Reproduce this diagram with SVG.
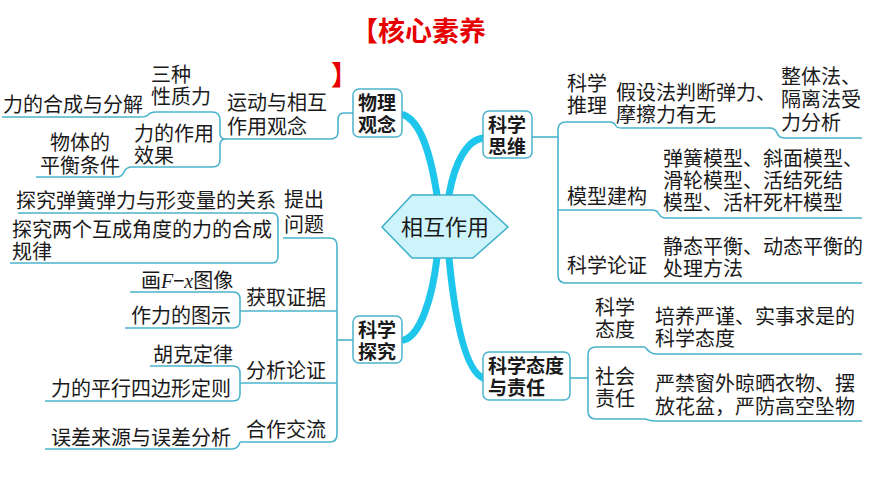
<svg xmlns="http://www.w3.org/2000/svg" width="870" height="489" viewBox="0 0 870 489">
<style>
text{font-family:"Noto Sans CJK SC","Noto Sans",sans-serif;fill:#1a1a1a;font-size:20px}
.n{font-weight:bold;font-size:19px}
.box{fill:#fff;stroke:#4bb4cc;stroke-width:1.5}
.l{fill:none;stroke:#4bb4cc;stroke-width:1.6}
.t{fill:none;stroke:#1ec6ec;stroke-width:7;stroke-linecap:round}
</style>
<rect width="870" height="489" fill="#fff"/>
<text x="351" y="41" style="fill:#e60000;font-size:27px;font-weight:bold">【核心素养</text>
<text x="331" y="85" style="fill:#e60000;font-size:27px;font-weight:bold">】</text>
<g id="connectors">
<path class="t" d="M437,195 C430,150 420,122 404,115"/>
<path class="t" d="M449,195 C455,160 468,140 483,138"/>
<path class="t" d="M437,258 C432,300 420,335 404,340"/>
<path class="t" d="M449,258 C455,320 465,370 483,378"/>
<path class="l" d="M353,113 H344 Q338,113 338,120 V132 Q338,139 330,139 H225"/>
<path class="l" d="M225,139 Q220,139 220,133 V120 Q220,112 212,112 H156 Q150,112 148,115 Q146,117 140,117 H2"/>
<path class="l" d="M225,139 Q220,139 220,146 V160 Q220,167 212,167 H132 Q126,167 124,172 Q122,177 116,177 H36"/>
<path class="l" d="M353,340 H337"/>
<path class="l" d="M283,238 H330 Q337,238 337,246 V434 Q337,442 330,442 H240"/>
<path class="l" d="M18,213 H272 Q278,213 278,220 V256 Q278,263 272,263 H10"/>
<path class="l" d="M240,311 H337"/>
<path class="l" d="M130,292 H233 Q240,292 240,299 V321 Q240,328 233,328 H125"/>
<path class="l" d="M240,383 H337"/>
<path class="l" d="M150,366 H233 Q240,366 240,373 V394 Q240,401 233,401 H45"/>
<path class="l" d="M240,442 Q238,449 232,449 H45"/>
<path class="l" d="M532,137 H558"/>
<path class="l" d="M610,122 H566 Q558,122 558,130 V275 Q558,283 566,283 H862"/>
<path class="l" d="M610,122 Q614,122 616,126 Q617,128 622,128 H770 Q775,128 777,133 Q779,138 785,138 H862"/>
<path class="l" d="M558,210 H652 Q657,210 659,214 Q661,218 666,218 H862"/>
<path class="l" d="M570,378 H588"/>
<path class="l" d="M645,347 H596 Q588,347 588,355 V411 Q588,419 596,419 H645 Q650,421 656,421 H862"/>
<path class="l" d="M645,347 Q650,354 656,354 H862"/>
</g>
<g id="center">
<polygon points="382,227 412,195 473,195 508,227 473,258 412,258" fill="#cdf3fb" stroke="#3bb0c9" stroke-width="1.5"/>
<text x="445" y="235" text-anchor="middle" style="font-size:22px">相互作用</text>
</g>
<g id="wuli"><rect class="box" x="353" y="89" width="49" height="48" rx="6"/><text class="n" x="358" y="110">物理</text><text class="n" x="358" y="132">观念</text></g>
<g id="siwei"><rect class="box" x="483" y="111" width="49" height="47" rx="6"/><text class="n" x="488" y="132">科学</text><text class="n" x="488" y="154">思维</text></g>
<g id="tanjiu"><rect class="box" x="353" y="316" width="49" height="47" rx="6"/><text class="n" x="358" y="337">科学</text><text class="n" x="358" y="359">探究</text></g>
<g id="taidu"><rect class="box" x="483" y="352" width="87" height="48" rx="6"/><text class="n" x="488" y="373">科学态度</text><text class="n" x="488" y="395">与责任</text></g>
<g id="labels-left">
<text x="227" y="110">运动与相互</text><text x="227" y="134">作用观念</text>
<text x="151" y="82">三种</text><text x="151" y="104">性质力</text>
<text x="3" y="112">力的合成与分解</text>
<text x="134" y="141">力的作用</text><text x="134" y="163">效果</text>
<text x="50" y="150">物体的</text><text x="40" y="173">平衡条件</text>
<text x="284" y="207">提出</text><text x="284" y="232">问题</text>
<text x="16" y="208">探究弹簧弹力与形变量的关系</text>
<text x="12" y="237">探究两个互成角度的力的合成</text><text x="12" y="259">规律</text>
<text x="246" y="305">获取证据</text>
<text x="141" y="288">画<tspan style="font-family:'Liberation Serif',serif;font-style:italic">F</tspan>−<tspan style="font-family:'Liberation Serif',serif;font-style:italic">x</tspan>图像</text>
<text x="131" y="323">作力的图示</text>
<text x="246" y="378">分析论证</text>
<text x="153" y="362">胡克定律</text>
<text x="51" y="396">力的平行四边形定则</text>
<text x="246" y="437">合作交流</text>
<text x="51" y="445">误差来源与误差分析</text>
</g>
<g id="labels-right">
<text x="567" y="91">科学</text><text x="567" y="113">推理</text>
<text x="616" y="100">假设法判断弹力、</text><text x="616" y="122">摩擦力有无</text>
<text x="781" y="84">整体法、</text><text x="781" y="107">隔离法受</text><text x="781" y="130">力分析</text>
<text x="567" y="204">模型建构</text>
<text x="663" y="166">弹簧模型、斜面模型、</text><text x="663" y="188">滑轮模型、活结死结</text><text x="663" y="210">模型、活杆死杆模型</text>
<text x="567" y="273">科学论证</text>
<text x="663" y="254">静态平衡、动态平衡的</text><text x="663" y="276">处理方法</text>
<text x="595" y="315">科学</text><text x="595" y="337">态度</text>
<text x="655" y="324">培养严谨、实事求是的</text><text x="655" y="346">科学态度</text>
<text x="595" y="384">社会</text><text x="595" y="406">责任</text>
<text x="655" y="391">严禁窗外晾晒衣物、摆</text><text x="655" y="414">放花盆，严防高空坠物</text>
</g>
</svg>
